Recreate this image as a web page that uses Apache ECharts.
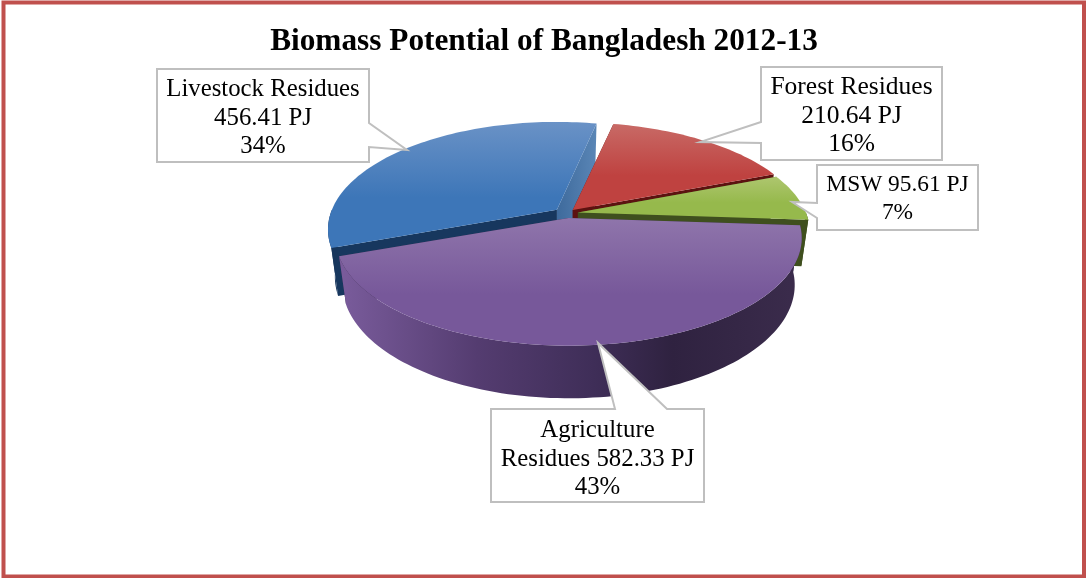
<!DOCTYPE html>
<html>
<head>
<meta charset="utf-8">
<style>html,body{margin:0;padding:0;background:#fff}#c{width:1086px;height:578px}</style>
<script src="https://cdn.jsdelivr.net/npm/echarts@6/dist/echarts.min.js"></script>
</head>
<body>
<div id="c"></div>
<script>
// ---- data ----
var categories = ['Forest Residues', 'MSW', 'Agriculture Residues', 'Livestock Residues'];
var valuesPJ = [210.64, 95.61, 582.33, 456.41];
var labelLines = [
  ['Forest Residues', '{v} PJ', '{p}%'],
  ['MSW {v} PJ', '{p}%'],
  ['Agriculture', 'Residues {v} PJ', '{p}%'],
  ['Livestock Residues', '{v} PJ', '{p}%']
];
var titleText = 'Biomass Potential of Bangladesh 2012-13';

// ---- 3D pie look ----
var paintOrder = [3, 0, 1, 2];
var startDeg = 12, cx = 566, cy = 212.4, Rk = 104, persp = 0.185, depth = 46, narrow = 0.97;
var sliceR = [231, 228, 229, 225];
var explodeX = 12, explodeY = 5.7;
var nudge = [[-1, 2], [0, 1], [1, 0], [0, 1]];
var palette = [
  {top: ['#c86a66', '#bf4240'], wallA: '#5e1513', wallB: '#7a1f1c', cut: '#5c1210'},
  {top: ['#aec66f', '#96b94c'], wallA: '#3f4f1e', wallB: '#3f4f1e', cut: '#3f4f1e'},
  {top: ['#8f75ab', '#77589a'], wallStops: [[0, '#7a5c9c'], [0.3, '#543c70'], [0.55, '#3f2e58'], [0.72, '#2f2240'], [1, '#3b2c4c']], cut: '#3a2c4c'},
  {top: ['#6a92c6', '#3d76b8'], wallA: '#17365c', wallB: '#17365c', cut: '#17375e', cutRight: ['#5a86b6', '#3e6a9c']}
];
var boxes = [
  {x: 761, y: 67, w: 181, h: 93, ptr: [[761, 122], [700, 142], [761, 143]], dy: 2, fs: 25.5},
  {x: 817, y: 165, w: 161, h: 65, ptr: [[817, 203], [792, 202], [817, 218]], dy: 1, fs: 23.4},
  {x: 491, y: 409, w: 213, h: 93, ptr: [[615, 409], [598, 343], [667, 409]], dy: 3, fs: 24.8},
  {x: 157, y: 69, w: 212, h: 93, ptr: [[369, 123], [407, 150], [369, 147]], dy: 2, fs: 24.8}
];
var font = '"Liberation Serif", serif';

var total = valuesPJ.reduce(function (a, b) { return a + b; }, 0);
var spans = [], acc = startDeg;
valuesPJ.forEach(function (v) { var s = v / total * 360; spans.push([acc, acc + s]); acc += s; });

function pt(i, deg, r, z) {
  var a = deg * Math.PI / 180, mid = (spans[i][0] + spans[i][1]) / 2 * Math.PI / 180;
  var ax = cx + explodeX * Math.sin(mid) + nudge[i][0];
  var ay = cy - explodeY * Math.cos(mid) + nudge[i][1];
  var nx = r * Math.sin(a), ny = r * Math.cos(a), s = 1 / (1 + persp * ny);
  var f = z ? narrow : 1;
  return [ax + sliceR[i] * nx * s * f, ay - Rk * ny * s * f + z * depth * s];
}
function arc(i, a0, a1, z) {
  var n = Math.max(2, Math.ceil(Math.abs(a1 - a0) / 1.5)), out = [];
  for (var k = 0; k <= n; k++) out.push(pt(i, a0 + (a1 - a0) * k / n, 1, z));
  return out;
}
function grad(x0, y0, x1, y1, stops) {
  return new echarts.graphic.LinearGradient(x0, y0, x1, y1, stops.map(function (s) { return {offset: s[0], color: s[1]}; }));
}
function poly(points, fill, extra) {
  return Object.assign({type: 'polygon', shape: {points: points}, style: {fill: fill}}, extra || {});
}

function renderSlice(params, api) {
  var i = api.value(0), c = palette[i], a0 = spans[i][0], a1 = spans[i][1], kids = [];
  var apex = pt(i, 0, 0, 0), apexB = pt(i, 0, 0, 1);
  var s0 = pt(i, a0, 1, 0), s0b = pt(i, a0, 1, 1), e0 = pt(i, a1, 1, 0), e0b = pt(i, a1, 1, 1);
  // cut faces
  kids.push(poly([apex, s0, s0b, apexB], c.cut));
  var rightFill = c.cutRight ? grad(1, 0, 0, 0, [[0, c.cutRight[0]], [1, c.cutRight[1]]]) : c.cut;
  kids.push(poly([apex, e0, e0b, apexB], rightFill));
  // outer wall, front-facing part only (90..270 degrees)
  var lo = Math.max(a0, 90), hi = Math.min(a1, 270);
  if (hi > lo) {
    var w = arc(i, lo, hi, 0).concat(arc(i, hi, lo, 1));
    var stops = (c.wallStops || [[0, c.wallA], [1, c.wallB]]);
    kids.push(poly(w, grad(0, 0, 1, 0, stops)));
  }
  // top face
  kids.push(poly([apex].concat(arc(i, a0, a1, 0)), grad(0, 0, 0, 1, [[0, c.top[0]], [0.6, c.top[1]], [1, c.top[1]]])));
  return {type: 'group', children: kids};
}

function renderLabel(params, api) {
  var i = api.value(0), b = boxes[i], p = b.ptr, val = api.value(1);
  var pct = Math.round(val / total * 100);
  var pts;
  var x2 = b.x + b.w, y2 = b.y + b.h;
  if (p[0][0] === b.x) pts = [[b.x, b.y], [x2, b.y], [x2, y2], [b.x, y2], p[2], p[1], p[0]];
  else if (p[0][1] === b.y) pts = [[b.x, b.y], p[0], p[1], p[2], [x2, b.y], [x2, y2], [b.x, y2]];
  else pts = [[b.x, b.y], [x2, b.y], p[0], p[1], p[2], [x2, y2], [b.x, y2]];
  var txt = labelLines[i].map(function (l) { return l.replace('{v}', val).replace('{p}', pct); }).join('\n');
  return {type: 'group', children: [
    {type: 'polygon', shape: {points: pts}, style: {fill: '#fff', stroke: '#bfbfbf', lineWidth: 2}},
    {type: 'text', style: {text: txt, x: b.x + b.w / 2, y: b.y + b.h / 2 + 0.5 + b.dy, align: 'center', verticalAlign: 'middle',
      font: b.fs + 'px ' + font, lineHeight: 28.5, fill: '#000'}}
  ]};
}

var chart = echarts.init(document.getElementById('c'), null, {renderer: 'canvas'});
chart.setOption({
  animation: false,
  backgroundColor: '#fff',
  title: {text: titleText, left: 539, top: 21, textAlign: 'center',
    textStyle: {fontFamily: font, fontWeight: 'bold', fontSize: 31.3, color: '#000'}},
  graphic: [{type: 'rect', shape: {x: 3.5, y: 2.5, width: 1080.5, height: 574}, style: {fill: 'none', stroke: '#c0504d', lineWidth: 4}, z: 100}],
  series: [
    {type: 'custom', coordinateSystem: 'none', renderItem: renderSlice, z: 2,
      data: paintOrder.map(function (i) { return [i, valuesPJ[i]]; })},
    {type: 'custom', coordinateSystem: 'none', renderItem: renderLabel, z: 3,
      data: paintOrder.map(function (i) { return {name: categories[i], value: [i, valuesPJ[i]]}; })}
  ]
});
</script>
</body>
</html>
